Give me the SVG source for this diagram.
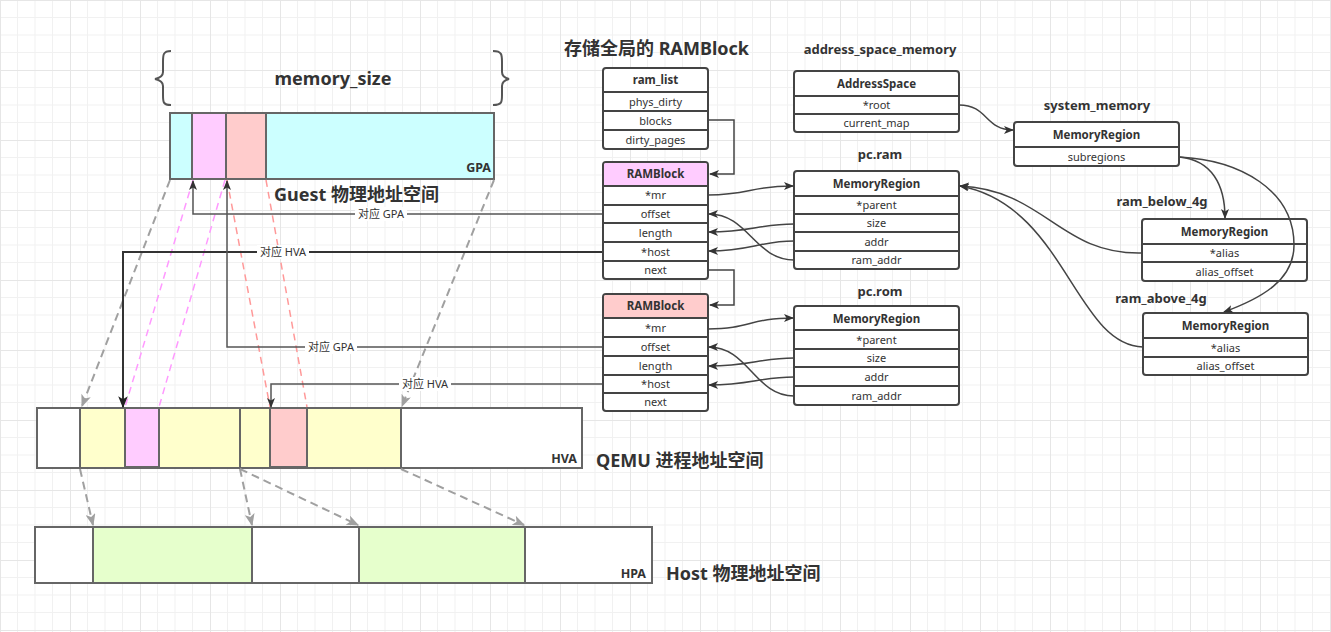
<svg xmlns="http://www.w3.org/2000/svg" width="1331" height="632" viewBox="0 0 1331 632">
<defs>
<pattern id="grid" width="70" height="70" patternUnits="userSpaceOnUse">
<path d="M17.5,0V70M35,0V70M52.5,0V70M0,17.5H70M0,35H70M0,52.5H70" stroke="#f1f1f1" stroke-width="1" fill="none"/>
<path d="M0.5,0V70M0,0.5H70" stroke="#e6e6e6" stroke-width="1" fill="none"/>
</pattern>
<marker id="ad" viewBox="0 0 10 8" refX="9" refY="4" markerWidth="10" markerHeight="8" markerUnits="userSpaceOnUse" orient="auto">
<path d="M0,0L10,4L0,8L2.5,4z" fill="#333"/>
</marker>
<marker id="ag" viewBox="0 0 10 8" refX="9" refY="4" markerWidth="13" markerHeight="10" markerUnits="userSpaceOnUse" orient="auto">
<path d="M0,0L10,4L0,8L2.5,4z" fill="#a0a0a0"/>
</marker>
<marker id="ak" viewBox="0 0 10 8" refX="9" refY="4" markerWidth="12" markerHeight="10" markerUnits="userSpaceOnUse" orient="auto">
<path d="M0,0L10,4L0,8L2.5,4z" fill="#222"/>
</marker>
</defs>
<style>
text{font-family:"Noto Sans","Noto Sans CJK SC",sans-serif;fill:#333}
.big{font-size:18px;font-weight:bold}
.lbl{font-size:13px;font-weight:bold}
.hd{font-size:11.5px;font-weight:bold;text-anchor:middle}
.rw{font-size:11px;text-anchor:middle}
.bt{font-size:12.5px;font-weight:bold;text-anchor:end}
.cl{font-size:11px;text-anchor:middle}
.tb{fill:#fff;stroke:#444;stroke-width:2}
.sep{stroke:#444;stroke-width:2;fill:none}
.bar{stroke:#666;stroke-width:2}
.dg{stroke:#a0a0a0;stroke-width:2;stroke-dasharray:8,5;fill:none}
.dp{stroke:#ff99ff;stroke-width:1.5;stroke-dasharray:7,5;fill:none}
.ds{stroke:#ff9999;stroke-width:1.5;stroke-dasharray:7,5;fill:none}
.cn{stroke:#444;stroke-width:1.5;fill:none}
.cg{stroke:#555;stroke-width:1.5;fill:none}
</style>
<rect width="1331" height="632" fill="#fff"/>
<rect width="1331" height="632" fill="url(#grid)"/>

<!-- GPA -->
<g id="gpa">
<path d="M171,51C163,51 163,55 163,62V72C163,76 160,78 155,79C160,80 163,82 163,86V95C163,102 163,105 171,105" stroke="#555" stroke-width="2" fill="none"/>
<path d="M493,51C502,51 502,55 502,62V72C502,76 505,78 509,79C505,80 502,82 502,86V95C502,102 502,105 493,105" stroke="#555" stroke-width="2" fill="none"/>
<text class="big" x="333" y="85" text-anchor="middle">memory_size</text>
<rect class="bar" x="170" y="113" width="324" height="66" fill="#ccffff"/>
<rect class="bar" x="192" y="113" width="34" height="66" fill="#ffccff"/>
<rect class="bar" x="226" y="113" width="40" height="66" fill="#ffcccc"/>
<text class="bt" x="491" y="172">GPA</text>
<text class="big" x="274" y="201">Guest 物理地址空间</text>
</g>

<!-- HVA -->
<g id="hva">
<rect class="bar" x="37" y="408" width="545" height="60" fill="#fff"/>
<rect class="bar" x="80" y="408" width="160" height="60" fill="#ffffcc"/>
<rect class="bar" x="240" y="408" width="161" height="60" fill="#ffffcc"/>
<rect class="bar" x="125" y="408" width="34" height="59" fill="#ffccff"/>
<rect class="bar" x="270" y="408" width="37" height="59" fill="#ffcccc"/>
<text class="bt" x="577" y="463">HVA</text>
<text class="big" x="596" y="467">QEMU 进程地址空间</text>
</g>

<!-- HPA -->
<g id="hpa">
<rect class="bar" x="35" y="527" width="617" height="56" fill="#fff"/>
<rect class="bar" x="93" y="527" width="159" height="56" fill="#e6ffcc"/>
<rect class="bar" x="359" y="527" width="166" height="56" fill="#e6ffcc"/>
<text class="bt" x="646" y="578">HPA</text>
<text class="big" x="666" y="580">Host 物理地址空间</text>
</g>

<text class="big" x="564" y="55">存储全局的 RAMBlock</text>

<!-- ram_list -->
<g id="ram_list">
<rect class="tb" x="603" y="68" width="105" height="81" rx="3"/>
<path class="sep" d="M603,92H708M603,111H708M603,130H708"/>
<text class="hd" x="655.5" y="84">ram_list</text>
<text class="rw" x="655.5" y="106">phys_dirty</text>
<text class="rw" x="655.5" y="125">blocks</text>
<text class="rw" x="655.5" y="144">dirty_pages</text>
</g>

<!-- RAMBlock 1 -->
<g id="ramblock1">
<rect class="tb" x="603" y="162" width="105" height="117" rx="3"/>
<path d="M606,163H705A2,2 0 0 1 707,165V186H604V165A2,2 0 0 1 606,163z" fill="#ffccff"/>
<path class="sep" d="M603,186H708M603,205H708M603,223H708M603,242H708M603,261H708"/>
<text class="hd" x="655.5" y="178">RAMBlock</text>
<text class="rw" x="655.5" y="199">*mr</text>
<text class="rw" x="655.5" y="218">offset</text>
<text class="rw" x="655.5" y="237">length</text>
<text class="rw" x="655.5" y="256">*host</text>
<text class="rw" x="655.5" y="274">next</text>
</g>

<!-- RAMBlock 2 -->
<g id="ramblock2">
<rect class="tb" x="603" y="294" width="105" height="117" rx="3"/>
<path d="M606,295H705A2,2 0 0 1 707,297V318H604V297A2,2 0 0 1 606,295z" fill="#ffcccc"/>
<path class="sep" d="M603,318H708M603,337H708M603,356H708M603,375H708M603,393H708"/>
<text class="hd" x="655.5" y="310">RAMBlock</text>
<text class="rw" x="655.5" y="332">*mr</text>
<text class="rw" x="655.5" y="351">offset</text>
<text class="rw" x="655.5" y="370">length</text>
<text class="rw" x="655.5" y="388">*host</text>
<text class="rw" x="655.5" y="406">next</text>
</g>

<!-- AddressSpace -->
<g id="address_space">
<text class="lbl" x="880" y="54" text-anchor="middle">address_space_memory</text>
<rect class="tb" x="794" y="71" width="165" height="61" rx="3"/>
<path class="sep" d="M794,96H959M794,114H959"/>
<text class="hd" x="876.5" y="88">AddressSpace</text>
<text class="rw" x="876.5" y="109">*root</text>
<text class="rw" x="876.5" y="127">current_map</text>
</g>

<!-- pc.ram -->
<g id="pc_ram">
<text class="lbl" x="880" y="159" text-anchor="middle">pc.ram</text>
<rect class="tb" x="794" y="171" width="165" height="98" rx="3"/>
<path class="sep" d="M794,196H959M794,214H959M794,232H959M794,251H959"/>
<text class="hd" x="876.5" y="188">MemoryRegion</text>
<text class="rw" x="876.5" y="209">*parent</text>
<text class="rw" x="876.5" y="227">size</text>
<text class="rw" x="876.5" y="246">addr</text>
<text class="rw" x="876.5" y="264">ram_addr</text>
</g>

<!-- pc.rom -->
<g id="pc_rom">
<text class="lbl" x="880" y="296" text-anchor="middle">pc.rom</text>
<rect class="tb" x="794" y="306" width="165" height="99" rx="3"/>
<path class="sep" d="M794,330H959M794,349H959M794,367H959M794,386H959"/>
<text class="hd" x="876.5" y="323">MemoryRegion</text>
<text class="rw" x="876.5" y="344">*parent</text>
<text class="rw" x="876.5" y="362">size</text>
<text class="rw" x="876.5" y="381">addr</text>
<text class="rw" x="876.5" y="400">ram_addr</text>
</g>

<!-- system_memory -->
<g id="system_memory">
<text class="lbl" x="1097" y="110" text-anchor="middle">system_memory</text>
<rect class="tb" x="1014" y="122" width="165" height="44" rx="3"/>
<path class="sep" d="M1014,147H1179"/>
<text class="hd" x="1096.5" y="139">MemoryRegion</text>
<text class="rw" x="1096.5" y="161">subregions</text>
</g>

<!-- ram_below_4g -->
<g id="ram_below_4g">
<text class="lbl" x="1162" y="206" text-anchor="middle">ram_below_4g</text>
<rect class="tb" x="1142" y="219" width="165" height="62" rx="3"/>
<path class="sep" d="M1142,244H1307M1142,262H1307"/>
<text class="hd" x="1224.5" y="236">MemoryRegion</text>
<text class="rw" x="1224.5" y="257">*alias</text>
<text class="rw" x="1224.5" y="276">alias_offset</text>
</g>

<!-- ram_above_4g -->
<g id="ram_above_4g">
<text class="lbl" x="1161" y="303" text-anchor="middle">ram_above_4g</text>
<rect class="tb" x="1143" y="313" width="165" height="62" rx="3"/>
<path class="sep" d="M1143,338H1308M1143,357H1308"/>
<text class="hd" x="1225.5" y="330">MemoryRegion</text>
<text class="rw" x="1225.5" y="352">*alias</text>
<text class="rw" x="1225.5" y="370">alias_offset</text>
</g>

<!-- connectors -->
<g id="connectors">
<path class="dg" d="M170,180L82,406" marker-end="url(#ag)"/>
<path class="dg" d="M494,180L402,406" marker-end="url(#ag)"/>
<path class="dp" d="M193,180L125,407"/>
<path class="dp" d="M225,180L159,407"/>
<path class="ds" d="M227,180L270,407"/>
<path class="ds" d="M266,180L307,407"/>
<path class="dg" d="M80,469L93,525" marker-end="url(#ag)"/>
<path class="dg" d="M240,469L252,525" marker-end="url(#ag)"/>
<path class="dg" d="M240,469L358,525" marker-end="url(#ag)"/>
<path class="dg" d="M401,469L524,525" marker-end="url(#ag)"/>

<path class="cg" d="M602,214H193V181" marker-end="url(#ad)"/>
<path d="M602,252H123V407" stroke="#333" stroke-width="2" fill="none" marker-end="url(#ak)"/>
<path class="cg" d="M602,347H227V181" marker-end="url(#ad)"/>
<path class="cg" d="M602,384H271V407" marker-end="url(#ad)"/>
<rect x="355" y="207" width="52" height="14" fill="#fff"/>
<text class="cl" x="381" y="218">对应 GPA</text>
<rect x="257" y="245" width="52" height="14" fill="#fff"/>
<text class="cl" x="283" y="256">对应 HVA</text>
<rect x="305" y="340" width="52" height="14" fill="#fff"/>
<text class="cl" x="331" y="351">对应 GPA</text>
<rect x="399" y="377" width="52" height="14" fill="#fff"/>
<text class="cl" x="425" y="388">对应 HVA</text>

<path class="cn" d="M708,120H734V174H710" marker-end="url(#ad)"/>
<path class="cn" d="M708,270H734V305H710" marker-end="url(#ad)"/>
<path class="cn" d="M708,195C750,195 750,186 793,186" marker-end="url(#ad)"/>
<path class="cn" d="M794,224C760,224 750,232 709,232" marker-end="url(#ad)"/>
<path class="cn" d="M794,241C760,241 750,251 709,251" marker-end="url(#ad)"/>
<path class="cn" d="M794,260C755,260 748,214 709,214" marker-end="url(#ad)"/>
<path class="cn" d="M708,329C750,329 750,318 793,318" marker-end="url(#ad)"/>
<path class="cn" d="M794,358C760,358 750,366 709,366" marker-end="url(#ad)"/>
<path class="cn" d="M794,377C760,377 750,385 709,385" marker-end="url(#ad)"/>
<path class="cn" d="M794,396C755,396 748,347 709,347" marker-end="url(#ad)"/>
<path class="cn" d="M959,105C988,105 985,130 1013,130" marker-end="url(#ad)"/>
<path class="cn" d="M1179,157C1212,160 1225,185 1225,218" marker-end="url(#ad)"/>
<path class="cn" d="M1179,157C1240,160 1294,190 1294,245C1294,280 1262,298 1224,312" marker-end="url(#ad)"/>
<path class="cn" d="M1142,253C1060,255 1045,190 960,186" marker-end="url(#ad)"/>
<path class="cn" d="M1143,347C1075,345 1065,205 960,186" marker-end="url(#ad)"/>
</g>
</svg>
